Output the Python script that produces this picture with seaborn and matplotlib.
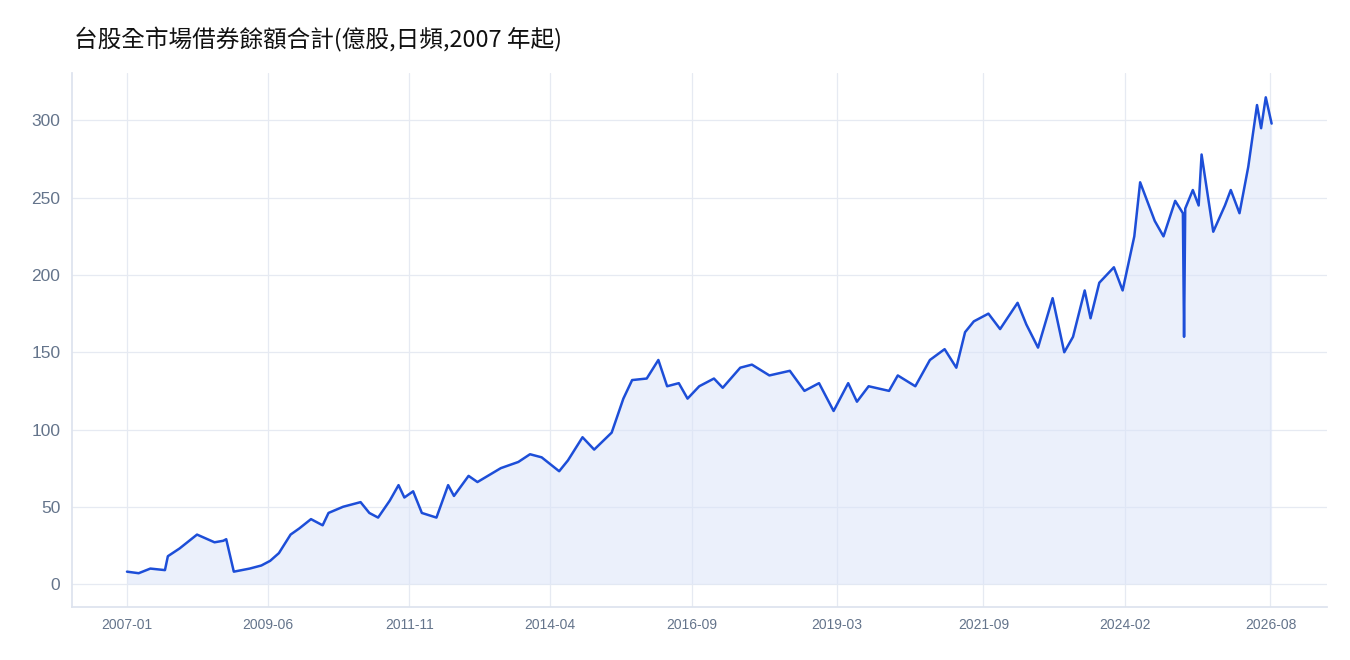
import matplotlib
matplotlib.use("Agg")
import matplotlib.pyplot as plt
import seaborn as sns
import pandas as pd
import numpy as np

# decimal years and values (億股)
years = [2007.0,2007.2,2007.4,2007.65,2007.7,2007.9,2008.2,2008.5,2008.65,2008.7,2008.83,
         2009.1,2009.3,2009.45,2009.6,2009.8,2009.95,2010.15,2010.35,2010.45,2010.7,2011.0,
         2011.15,2011.3,2011.5,2011.65,2011.75,2011.9,2012.05,2012.3,2012.5,2012.6,2012.85,
         2013.0,2013.4,2013.7,2013.9,2014.1,2014.4,2014.55,2014.8,2015.0,2015.3,2015.5,2015.65,
         2015.9,2016.1,2016.25,2016.45,2016.6,2016.8,2017.05,2017.2,2017.5,2017.7,2018.0,
         2018.35,2018.6,2018.85,2019.1,2019.35,2019.5,2019.7,2020.05,2020.2,2020.5,2020.75,
         2021.0,2021.2,2021.35,2021.5,2021.75,2021.95,2022.25,2022.4,2022.6,2022.85,2023.05,
         2023.2,2023.4,2023.5,2023.65,2023.9,2024.05,2024.25,2024.35,2024.6,2024.75,2024.95,
         2025.08,2025.1,2025.12,2025.25,2025.35,2025.4,2025.6,2025.8,2025.9,2026.05,2026.2,
         2026.35,2026.42,2026.5,2026.6]
values = [8,7,10,9,18,23,32,27,28,29,8,
          10,12,15,20,32,36,42,38,46,50,53,
          46,43,54,64,56,60,46,43,64,57,70,
          66,75,79,84,82,73,80,95,87,98,120,132,
          133,145,128,130,120,128,133,127,140,142,135,
          138,125,130,112,130,118,128,125,135,128,145,
          152,140,163,170,175,165,182,168,153,185,150,
          160,190,172,195,205,190,225,260,235,225,248,
          240,160,243,255,245,278,228,245,255,240,270,
          310,295,315,298]
tick_labels = ["2007-01","2009-06","2011-11","2014-04","2016-09","2019-03","2021-09","2024-02","2026-08"]

def to_date(y):
    yr = int(np.floor(y))
    return pd.Timestamp(yr, 1, 1) + pd.Timedelta(days=(y - yr) * 365.25)

df = pd.DataFrame({"date": [to_date(y) for y in years], "value": values})

sns.set_theme(style="white")
plt.rcParams['font.family'] = ['Liberation Sans', 'Noto Sans CJK TC', 'DejaVu Sans']

fig, ax = plt.subplots(figsize=(13.5, 6.6), dpi=100)
fig.subplots_adjust(left=0.053, right=0.983, top=0.89, bottom=0.08)
line = "#1d4ed8"
ax.fill_between(df["date"], df["value"], 0, color="#dbe4f8", alpha=0.55, lw=0)
sns.lineplot(data=df, x="date", y="value", ax=ax, color=line, lw=1.8)

ax.set_xlim(to_date(2006.05), to_date(2027.55))
ax.set_ylim(-15, 331)
ax.set_yticks([0, 50, 100, 150, 200, 250, 300])
ticks = [pd.Timestamp(t + "-01") for t in tick_labels]
ax.set_xticks(ticks)
ax.set_xticklabels(tick_labels)
ax.grid(True, color="#e6eaf2", lw=0.9)
ax.set_xlabel(""); ax.set_ylabel("")
for s in ["top", "right"]:
    ax.spines[s].set_visible(False)
for s in ["left", "bottom"]:
    ax.spines[s].set_color("#dde3ee")
ax.tick_params(axis="y", labelsize=12.5, colors="#64748b", length=0, pad=8)
ax.tick_params(axis="x", labelsize=10, colors="#64748b", length=4, color="#cbd5e1")
fig.text(0.055, 0.94, "台股全市場借券餘額合計(億股,日頻,2007 年起)", fontsize=17, color="#111111",
         va="center", family=['Noto Sans CJK TC', 'DejaVu Sans'])
fig.savefig("out.png", dpi=100)
